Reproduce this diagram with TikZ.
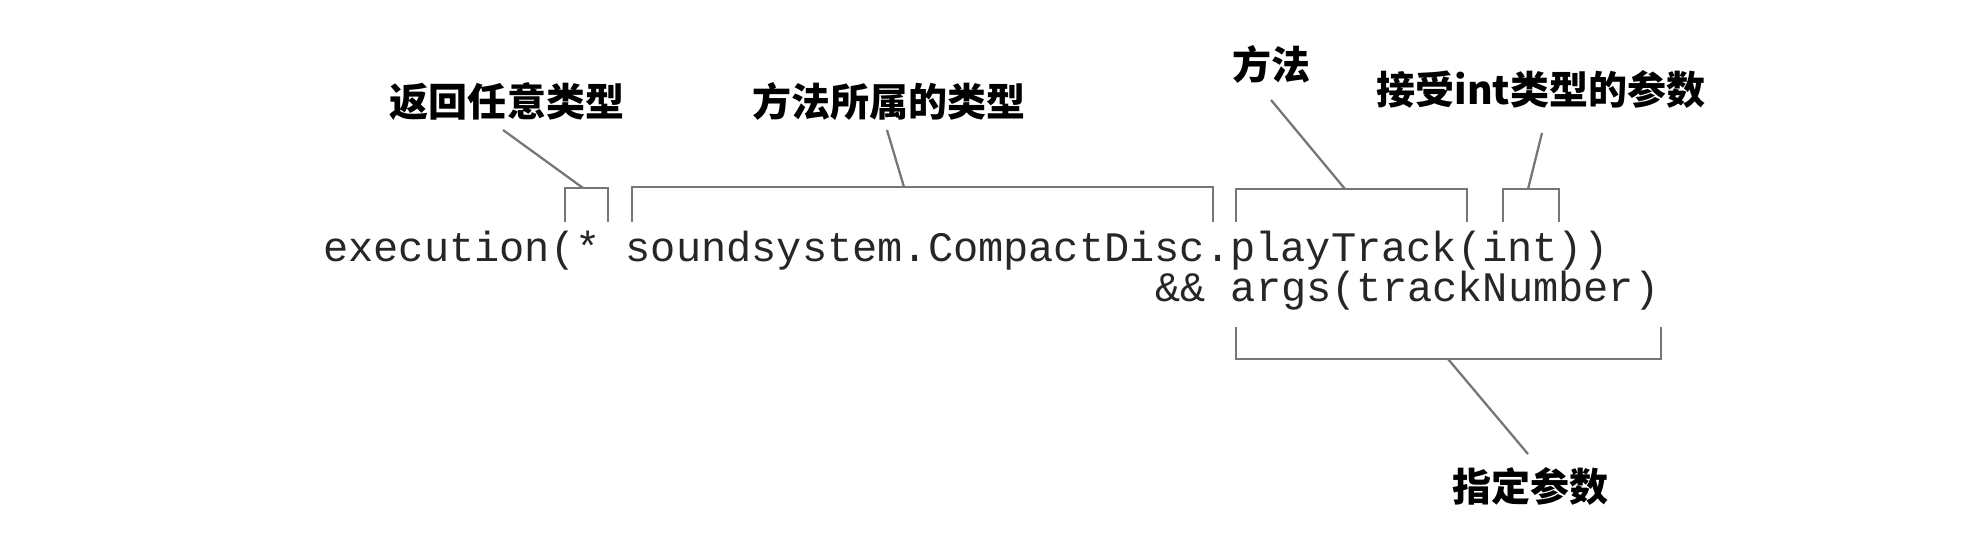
\documentclass[tikz,border=0pt]{standalone}
\usepackage{fontspec}
\setmonofont{Liberation Mono}
\newfontfamily\cjk{Noto Sans CJK SC}
\definecolor{linegray}{RGB}{118,118,118}

\begin{document}
\begin{tikzpicture}[
    x=0.02cm, y=-0.02cm,
    code/.style = {anchor=base west, inner sep=0pt, text=black!85,
font=\fontsize{23.9pt}{28pt}\ttfamily},
    note/.style = {inner sep=0pt, text height=19pt, text depth=2.2pt,
font=\fontsize{22.2pt}{26pt}\cjk\bfseries},
    bracket/.style = {draw=linegray, line width=1.6pt},
    leader/.style = {draw=linegray, line width=1.3pt}
]
  \useasboundingbox (0,0) rectangle (1982,554);

  % the pointcut expression
  \node (line1) [code] at (323,261) {execution(* soundsystem.CompactDisc.playTrack(int))};
  \node (line2) [code] at (1155,301) {\&\& args(trackNumber)};

  % labels
  \node (ret) [note] at (507,102) {返回任意类型};
  \node (owner) [note] at (889,102) {方法所属的类型};
  \node (meth) [note] at (1271,65) {方法};
  \node (intarg) [note] at (1541,90) {接受int类型的参数};
  \node (spec) [note] at (1530,487) {指定参数};

  % bracket tips
  \coordinate (b1) at (583,188);
  \coordinate (b2) at (904,187);
  \coordinate (b3) at (1345,189);
  \coordinate (b4) at (1528,189);
  \coordinate (b5) at (1448,359);

  \draw[bracket] (565,222) -- (565,188) -- (608,188) -- (608,222);
  \draw[bracket] (632,222) -- (632,187) -- (1213,187) -- (1213,222);
  \draw[bracket] (1236,222) -- (1236,189) -- (1467,189) -- (1467,222);
  \draw[bracket] (1503,222) -- (1503,189) -- (1559,189) -- (1559,222);
  \draw[bracket] (1236,327) -- (1236,359) -- (1661,359) -- (1661,327);

  \draw[leader] (ret.south) ++(-4,9) -- (b1);
  \draw[leader] (owner.south) ++(-2,9) -- (b2);
  \draw[leader] (meth.south) ++(0,16) -- (b3);
  \draw[leader] (intarg.south) ++(1,24) -- (b4);
  \draw[leader] (spec.north) ++(-2,-14) -- (b5);

\end{tikzpicture}
\end{document}
